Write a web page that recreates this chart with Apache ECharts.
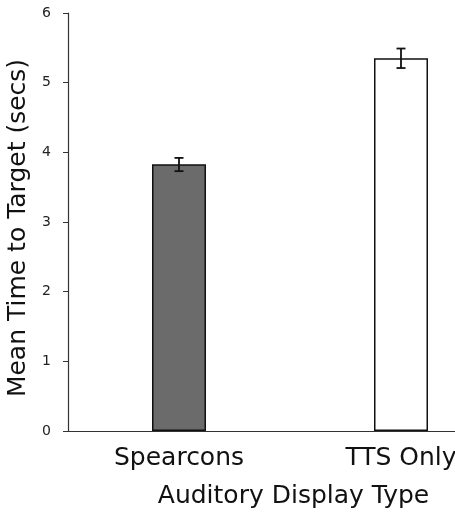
<!DOCTYPE html>
<html>
<head>
<meta charset="utf-8">
<script src="https://cdn.jsdelivr.net/npm/echarts@6/dist/echarts.min.js"></script>
<style>
  html, body { margin: 0; padding: 0; background: #fff; }
  #chart { width: 455px; height: 512px; }
</style>
</head>
<body>
<div id="chart"></div>
<script>
// values
var categories = ['Spearcons', 'TTS Only'];
var means = [3.83, 5.35];
var errLow = [3.73, 5.21];
var errHigh = [3.92, 5.49];
var barColors = ['#6b6b6b', '#ffffff'];
var yTicks = [0, 1, 2, 3, 4, 5, 6];

var chart = echarts.init(document.getElementById('chart'));

var option = {
    animation: false,
    backgroundColor: '#fff',
    textStyle: { fontFamily: 'DejaVu Sans' },
    // the x axis runs on past the right edge, as in the original
    grid: { left: 68, top: 13, width: 444, height: 418, containLabel: false, outerBoundsMode: 'none' },
    xAxis: {
        type: 'category',
        data: categories,
        name: 'Auditory Display Type',
        nameLocation: 'middle',
        nameGap: 53,
        nameTextStyle: { fontSize: 25, color: '#111', fontFamily: 'DejaVu Sans', padding: [0, 0, 0, 7] },
        axisLine: { lineStyle: { color: '#333', width: 1.2 } },
        axisTick: { show: false },
        axisLabel: { margin: 15, fontSize: 25, color: '#111', fontFamily: 'DejaVu Sans' },
        splitLine: { show: false }
    },
    yAxis: {
        type: 'value',
        min: yTicks[0],
        max: yTicks[yTicks.length - 1],
        interval: 1,
        name: 'Mean Time to Target (secs)',
        nameLocation: 'middle',
        nameGap: 36,
        nameTextStyle: { fontSize: 25, color: '#111', fontFamily: 'DejaVu Sans', padding: [0, 12, 0, 0] },
        axisLine: { show: true, lineStyle: { color: '#333', width: 1.2 } },
        axisTick: { show: true, length: 5, lineStyle: { color: '#333' } },
        axisLabel: { margin: 17, fontSize: 14, color: '#222', fontFamily: 'DejaVu Sans' },
        splitLine: { show: false }
    },
    series: [
        {
            type: 'bar',
            barWidth: 54,
            data: means.map(function (v, i) {
                return {
                    value: v,
                    itemStyle: { color: barColors[i], borderColor: '#111', borderWidth: 1.5 }
                };
            })
        },
        {
            type: 'custom',
            data: categories.map(function (c, i) { return [i, errLow[i], errHigh[i]]; }),
            renderItem: function (params, api) {
                var lo = api.coord([api.value(0), api.value(1)]);
                var hi = api.coord([api.value(0), api.value(2)]);
                var w = 4.5;
                var style = { stroke: '#111', lineWidth: 1.8 };
                return {
                    type: 'group',
                    children: [
                        { type: 'line', shape: { x1: hi[0], y1: hi[1], x2: lo[0], y2: lo[1] }, style: style },
                        { type: 'line', shape: { x1: hi[0] - w, y1: hi[1], x2: hi[0] + w, y2: hi[1] }, style: style },
                        { type: 'line', shape: { x1: lo[0] - w, y1: lo[1], x2: lo[0] + w, y2: lo[1] }, style: style }
                    ]
                };
            },
            z: 10
        }
    ]
};

chart.setOption(option);
</script>
</body>
</html>
